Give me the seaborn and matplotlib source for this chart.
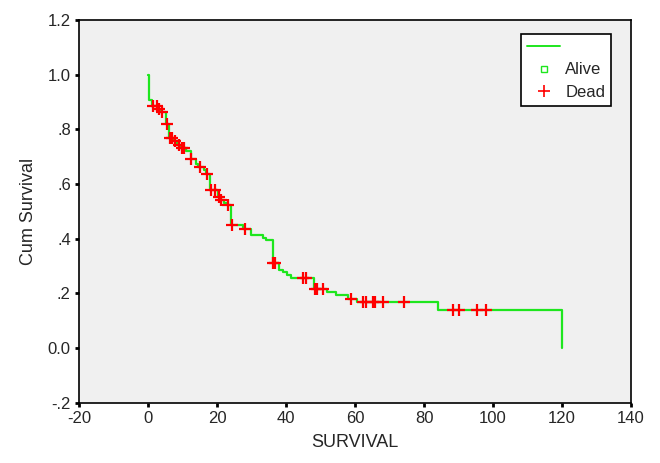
import numpy as np
import pandas as pd
import matplotlib
matplotlib.use('Agg')
import matplotlib.pyplot as plt
import seaborn as sns
from matplotlib.lines import Line2D

# step points of the survival curve (time, cum survival after the step)
event_times = [0, 0.3, 1.2, 2.8, 3.5, 5.3, 6.0, 7.5, 8.5, 9.5, 11.0, 12.4, 13.9, 14.4,
               16.2, 16.8, 18.0, 20.2, 21.0, 22.1, 23.0, 24.1, 27.5, 29.9, 33.4, 34.1,
               36.1, 38.0, 39.0, 40.4, 41.4, 48.2, 52.0, 54.4, 58.0, 60.5, 84.0, 120.0]
cum_survival = [1.0, 0.908, 0.886, 0.874, 0.862, 0.82, 0.768, 0.757, 0.743, 0.732, 0.722,
                0.69, 0.674, 0.664, 0.65, 0.638, 0.579, 0.554, 0.542, 0.532, 0.524, 0.45,
                0.435, 0.414, 0.404, 0.396, 0.31, 0.286, 0.278, 0.267, 0.257, 0.216, 0.206,
                0.194, 0.18, 0.167, 0.139, 0.0]

# censored times (red crosses)
censor_times = [1.5, 2.5, 3.0, 4.0, 5.5, 6.3, 7.0, 7.8, 8.8, 9.8, 10.5, 12.5, 15.1, 17.0,
                18.2, 19.4, 20.4, 21.2, 23.1, 24.3, 28.1, 36.3, 36.9, 45.0, 45.8, 48.4,
                49.0, 50.8, 58.8, 62.4, 63.2, 65.1, 65.9, 68.2, 74.2, 88.3, 90.0, 95.3, 98.0]

yticks = [-0.2, 0.0, 0.2, 0.4, 0.6, 0.8, 1.0, 1.2]
ytick_labels = ['-.2', '0.0', '.2', '.4', '.6', '.8', '1.0', '1.2']
xticks = [-20, 0, 20, 40, 60, 80, 100, 120, 140]

curve = pd.DataFrame({'SURVIVAL': event_times, 'Cum Survival': cum_survival})
idx = np.searchsorted(event_times, censor_times, side='right') - 1
censored = pd.DataFrame({'SURVIVAL': censor_times,
                         'Cum Survival': np.array(cum_survival)[idx]})

sns.set_style('ticks', {'axes.facecolor': '#f0f0f0'})
plt.rcParams['font.family'] = ['Liberation Sans', 'DejaVu Sans']

fig = plt.figure(figsize=(6.6, 4.63), dpi=100)
ax = fig.add_axes([0.12, 0.13, 0.836, 0.827])

green = '#1ee61e'
sns.lineplot(data=curve, x='SURVIVAL', y='Cum Survival', drawstyle='steps-post',
             estimator=None, sort=False, color=green, linewidth=1.6, ax=ax)
sns.scatterplot(data=censored, x='SURVIVAL', y='Cum Survival', marker='+', s=70,
                color='#ff0000', linewidth=1.6, ax=ax, zorder=3)

ax.set_xlim(-20, 140)
ax.set_ylim(-0.2, 1.2)
ax.set_xticks(xticks)
ax.set_xticklabels([str(t) for t in xticks])
ax.set_yticks(yticks)
ax.set_yticklabels(ytick_labels)
ax.tick_params(length=3, width=2, labelsize=12, color='black', pad=3)
for s in ax.spines.values():
    s.set_visible(True)
    s.set_linewidth(1.2)
    s.set_color('black')
ax.set_xlabel('SURVIVAL', fontsize=13, labelpad=6)
ax.set_ylabel('Cum Survival', fontsize=13, labelpad=8)

handles = [Line2D([], [], color=green, linewidth=1.4),
           Line2D([], [], color=green, marker='s', markersize=5, markerfacecolor='none',
                  linestyle='none'),
           Line2D([], [], color='#ff0000', marker='+', markersize=9, markeredgewidth=1.2,
                  linestyle='none')]
leg = ax.legend(handles, [' ', 'Alive', 'Dead'], loc='upper right',
                bbox_to_anchor=(0.964, 0.963), borderaxespad=0, fontsize=12,
                frameon=True, fancybox=False, handlelength=2.0, handletextpad=0.3,
                labelspacing=0.45, borderpad=0.35)
leg.get_frame().set_edgecolor('black')
leg.get_frame().set_linewidth(1.2)
leg.get_frame().set_facecolor('white')
leg.get_frame().set_alpha(1)

fig.savefig('out.png', dpi=100)
